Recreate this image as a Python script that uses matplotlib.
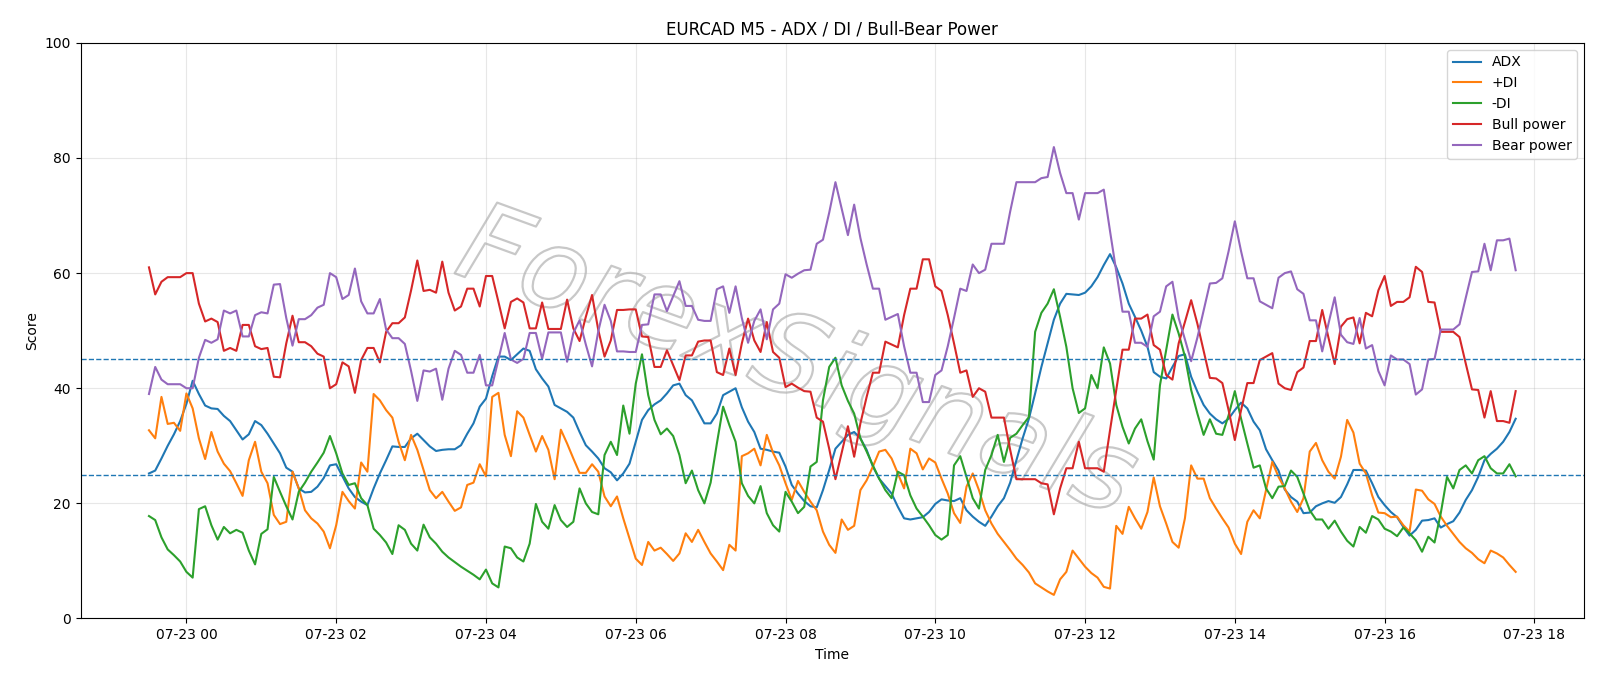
import matplotlib
matplotlib.use("Agg")
import matplotlib.pyplot as plt
import matplotlib.dates as mdates
import matplotlib.patheffects as pe
import pandas as pd

# EURCAD M5 indicator values, one per 5-minute bar from 07-22 23:30
adx = [25.2, 25.7, 27.8, 30.0, 32.0, 34.3, 37.3, 41.3, 39.0, 37.0, 36.5, 36.4, 35.2, 34.3, 32.7, 31.1,
       32.0, 34.3, 33.6, 32.1, 30.4, 28.7, 26.2, 25.5, 22.6, 21.9, 22.0, 22.9, 24.4, 26.6, 26.8, 24.7,
       22.6, 21.1, 20.3, 19.7, 22.6, 25.2, 27.5, 29.9, 29.8, 29.8, 31.3, 32.1, 31.0, 29.9, 29.1, 29.3,
       29.4, 29.4, 30.1, 32.1, 33.9, 36.8, 38.2, 42.1, 45.5, 45.5, 44.9, 45.9, 46.9, 46.5, 43.3, 41.7,
       40.3, 37.1, 36.5, 35.9, 34.9, 32.4, 30.1, 29.0, 27.8, 26.1, 25.4, 24.0, 25.2, 26.9, 30.7, 34.5,
       36.2, 37.2, 37.9, 39.1, 40.5, 40.8, 38.8, 37.9, 35.9, 33.9, 33.9, 35.6, 38.8, 39.4, 40.0, 36.7,
       34.2, 32.4, 29.5, 29.3, 29.0, 28.8, 26.4, 23.2, 21.7, 20.4, 19.5, 19.3, 22.3, 25.8, 29.5, 30.7,
       31.9, 32.4, 31.3, 29.3, 26.4, 24.3, 23.0, 21.7, 19.4, 17.4, 17.2, 17.4, 17.6, 18.5, 19.9, 20.7,
       20.5, 20.4, 20.9, 18.8, 17.7, 16.8, 16.1, 17.7, 19.5, 20.9, 23.6, 27.5, 31.3, 34.7, 39.1, 43.7,
       47.8, 51.9, 54.7, 56.4, 56.3, 56.2, 56.6, 57.7, 59.3, 61.4, 63.3, 61.0, 58.2, 54.7, 52.4, 50.0,
       47.2, 42.8, 42.0, 41.7, 43.7, 45.6, 45.9, 42.0, 39.4, 37.1, 35.6, 34.6, 33.9, 34.7, 36.2, 37.5,
       36.5, 34.2, 32.7, 29.4, 27.5, 25.7, 22.4, 21.1, 20.3, 18.3, 18.4, 19.5, 20.0, 20.4, 20.1, 21.1,
       23.3, 25.8, 25.8, 25.7, 23.5, 21.1, 19.7, 18.5, 17.6, 15.9, 14.4, 15.4, 17.0, 17.1, 17.4, 15.8,
       16.4, 16.9, 18.4, 20.6, 22.3, 24.6, 27.5, 28.6, 29.5, 30.7, 32.4, 34.7]

plus_di = [32.7, 31.3, 38.5, 33.8, 34.0, 32.6, 39.1, 36.5, 31.3, 27.7, 32.4, 29.0, 26.9, 25.6, 23.5, 21.3,
           27.5, 30.7, 25.5, 23.5, 18.0, 16.4, 16.8, 25.5, 22.6, 18.8, 17.4, 16.5, 15.1, 12.2, 16.2, 22.0,
           20.4, 19.1, 27.1, 25.5, 39.0, 37.9, 36.2, 34.9, 30.7, 27.5, 31.9, 29.3, 25.8, 22.3, 20.9, 22.0,
           20.3, 18.7, 19.3, 23.2, 23.6, 26.8, 24.7, 38.5, 39.2, 31.9, 28.2, 36.0, 34.9, 31.9, 29.0, 31.7,
           29.3, 24.2, 32.8, 30.4, 27.8, 25.3, 25.3, 26.8, 25.5, 21.2, 19.5, 21.2, 17.4, 13.9, 10.4, 9.3,
           13.3, 11.8, 12.3, 11.2, 10.0, 11.3, 14.8, 13.3, 15.4, 13.3, 11.3, 9.9, 8.4, 12.8, 11.8, 28.2,
           28.7, 29.5, 26.6, 31.9, 28.8, 26.6, 23.5, 20.6, 23.9, 22.0, 20.3, 18.8, 15.1, 12.8, 11.4, 17.2,
           15.4, 16.1, 22.3, 24.0, 26.4, 29.0, 29.3, 27.8, 25.2, 22.6, 29.5, 28.7, 25.9, 27.8, 27.1, 24.3,
           21.7, 18.3, 16.6, 22.9, 25.2, 22.3, 18.8, 16.5, 14.7, 13.3, 11.9, 10.4, 9.3, 8.0, 6.1, 5.4,
           4.7, 4.1, 6.8, 8.1, 11.8, 10.4, 9.0, 7.9, 7.1, 5.5, 5.2, 16.1, 14.7, 19.4, 17.4, 15.6,
           18.5, 24.5, 19.5, 16.5, 13.3, 12.3, 17.4, 26.6, 24.3, 24.3, 20.9, 19.1, 17.4, 15.8, 13.0, 11.2,
           16.8, 18.8, 17.4, 22.3, 27.2, 24.6, 22.6, 20.3, 18.5, 20.9, 29.0, 30.5, 27.5, 25.5, 24.3, 28.1,
           34.5, 32.3, 26.9, 25.2, 21.4, 18.4, 18.3, 17.6, 17.7, 16.2, 15.1, 22.4, 22.2, 20.7, 19.9, 17.7,
           16.1, 14.7, 13.3, 12.2, 11.4, 10.3, 9.6, 11.8, 11.3, 10.6, 9.3, 8.1]

minus_di = [17.8, 17.1, 14.1, 12.0, 11.0, 9.9, 8.1, 7.1, 19.0, 19.5, 16.2, 13.7, 15.9, 14.8, 15.4, 14.9,
            11.8, 9.4, 14.7, 15.5, 24.6, 22.0, 19.5, 17.2, 22.0, 23.6, 25.5, 27.1, 28.8, 31.7, 28.7, 25.2,
            23.2, 23.5, 20.9, 19.7, 15.6, 14.5, 13.2, 11.2, 16.2, 15.4, 13.0, 11.8, 16.3, 14.1, 13.0, 11.6,
            10.6, 9.8, 9.0, 8.3, 7.6, 6.8, 8.5, 6.1, 5.4, 12.5, 12.2, 10.6, 9.9, 13.0, 19.9, 16.8,
            15.6, 19.7, 17.1, 15.9, 16.8, 22.6, 20.0, 18.5, 18.1, 28.4, 30.7, 28.4, 37.0, 32.1, 40.8, 45.9,
            38.8, 34.5, 32.0, 33.0, 31.7, 28.4, 23.5, 25.7, 22.3, 20.0, 23.6, 30.4, 36.8, 33.6, 30.7, 23.5,
            21.3, 20.0, 23.0, 18.3, 16.2, 15.1, 22.0, 20.3, 18.3, 19.4, 26.4, 27.2, 37.9, 43.7, 45.3, 40.5,
            37.8, 35.6, 31.3, 29.0, 26.6, 24.3, 22.3, 20.9, 25.5, 24.9, 21.4, 19.1, 17.7, 16.2, 14.5, 13.7,
            14.5, 26.6, 28.2, 24.6, 20.9, 19.1, 25.8, 28.4, 31.9, 27.2, 31.4, 32.1, 33.6, 35.0, 49.8, 53.1,
            54.7, 57.2, 52.4, 47.2, 40.0, 35.7, 36.5, 42.3, 40.0, 47.1, 44.3, 37.1, 33.3, 30.4, 33.0, 34.6,
            30.8, 27.6, 40.5, 46.6, 52.8, 49.5, 45.5, 39.7, 35.6, 31.9, 34.6, 32.1, 31.9, 35.3, 39.5, 34.7,
            30.4, 26.2, 26.6, 22.6, 20.9, 22.9, 23.0, 25.7, 24.6, 21.7, 18.8, 17.2, 17.2, 15.6, 17.0, 15.1,
            13.5, 12.5, 15.9, 14.9, 17.8, 17.2, 15.6, 15.1, 14.3, 15.8, 14.8, 13.6, 11.6, 14.2, 13.2, 18.3,
            24.6, 22.6, 25.8, 26.6, 25.2, 27.5, 28.2, 26.1, 25.2, 25.2, 26.8, 24.7]

bull_power = [61.0, 56.3, 58.5, 59.3, 59.3, 59.3, 60.0, 60.0, 54.7, 51.6, 52.1, 51.5, 46.5, 47.0, 46.5, 51.0,
              51.0, 47.3, 46.8, 47.0, 42.0, 41.9, 47.8, 52.6, 48.0, 48.0, 47.3, 46.0, 45.5, 40.0, 40.7, 44.5,
              43.8, 39.2, 44.9, 47.0, 47.0, 44.5, 49.8, 51.3, 51.3, 52.3, 57.0, 62.2, 56.9, 57.1, 56.6, 62.0,
              56.6, 53.5, 54.2, 57.3, 57.3, 54.2, 59.5, 59.5, 55.0, 50.4, 55.0, 55.6, 54.9, 50.4, 50.4, 54.9,
              50.3, 50.3, 50.3, 55.4, 50.4, 48.2, 52.4, 56.2, 50.1, 45.5, 48.3, 53.6, 53.6, 53.7, 53.7, 49.0,
              48.9, 43.7, 43.7, 46.6, 44.0, 41.4, 45.7, 45.7, 48.1, 48.3, 48.3, 42.8, 42.3, 46.9, 42.3, 47.8,
              52.1, 48.3, 46.3, 51.5, 46.3, 45.3, 40.2, 40.8, 40.1, 39.5, 39.4, 34.9, 34.2, 29.5, 24.2, 28.8,
              33.4, 28.1, 33.9, 38.5, 42.7, 42.7, 48.1, 47.6, 47.1, 52.7, 57.3, 57.3, 62.4, 62.4, 57.7, 56.9,
              52.7, 47.8, 42.7, 43.1, 38.5, 40.0, 39.4, 34.9, 34.9, 34.9, 29.3, 24.2, 24.2, 24.2, 24.2, 23.5,
              23.3, 18.1, 22.6, 26.1, 26.1, 30.7, 26.1, 26.1, 26.1, 25.5, 32.7, 39.7, 46.7, 46.7, 52.1, 52.1,
              52.8, 47.5, 46.7, 42.3, 41.5, 47.8, 51.5, 55.3, 51.2, 46.5, 41.8, 41.7, 40.9, 36.2, 31.0, 36.2,
              40.9, 40.9, 44.9, 45.5, 46.1, 40.8, 40.0, 39.7, 42.8, 43.6, 48.2, 48.2, 53.6, 48.8, 44.2, 50.7,
              52.0, 52.3, 47.8, 53.1, 52.5, 57.0, 59.5, 54.3, 55.0, 55.0, 55.8, 61.1, 60.2, 55.0, 54.9, 49.8,
              49.8, 49.8, 48.9, 44.3, 39.8, 39.7, 34.9, 39.5, 34.3, 34.3, 34.0, 39.5]

bear_power = [39.0, 43.7, 41.5, 40.7, 40.7, 40.7, 40.0, 40.0, 45.3, 48.4, 47.9, 48.5, 53.5, 53.0, 53.5, 49.0,
              49.0, 52.7, 53.2, 53.0, 58.0, 58.1, 52.2, 47.4, 52.0, 52.0, 52.7, 54.0, 54.5, 60.0, 59.3, 55.5,
              56.2, 60.8, 55.1, 53.0, 53.0, 55.5, 50.2, 48.7, 48.7, 47.7, 43.0, 37.8, 43.1, 42.9, 43.4, 38.0,
              43.4, 46.5, 45.8, 42.7, 42.7, 45.8, 40.5, 40.5, 45.0, 49.6, 45.0, 44.4, 45.1, 49.6, 49.6, 45.1,
              49.7, 49.7, 49.7, 44.6, 49.6, 51.8, 47.6, 43.8, 49.9, 54.5, 51.7, 46.4, 46.4, 46.3, 46.3, 51.0,
              51.1, 56.3, 56.3, 53.4, 56.0, 58.6, 54.3, 54.3, 51.9, 51.7, 51.7, 57.2, 57.7, 53.1, 57.7, 52.2,
              47.9, 51.7, 53.7, 48.5, 53.7, 54.7, 59.8, 59.2, 59.9, 60.5, 60.6, 65.1, 65.8, 70.5, 75.8, 71.2,
              66.6, 71.9, 66.1, 61.5, 57.3, 57.3, 51.9, 52.4, 52.9, 47.3, 42.7, 42.7, 37.6, 37.6, 42.3, 43.1,
              47.3, 52.2, 57.3, 56.9, 61.5, 60.0, 60.6, 65.1, 65.1, 65.1, 70.7, 75.8, 75.8, 75.8, 75.8, 76.5,
              76.7, 81.9, 77.4, 73.9, 73.9, 69.3, 73.9, 73.9, 73.9, 74.5, 67.3, 60.3, 53.3, 53.3, 47.9, 47.9,
              47.2, 52.5, 53.3, 57.7, 58.5, 52.2, 48.5, 44.7, 48.8, 53.5, 58.2, 58.3, 59.1, 63.8, 69.0, 63.8,
              59.1, 59.1, 55.1, 54.5, 53.9, 59.2, 60.0, 60.3, 57.2, 56.4, 51.8, 51.8, 46.4, 51.2, 55.8, 49.3,
              48.0, 47.7, 52.2, 46.9, 47.5, 43.0, 40.5, 45.7, 45.0, 45.0, 44.2, 38.9, 39.8, 45.0, 45.1, 50.2,
              50.2, 50.2, 51.1, 55.7, 60.2, 60.3, 65.1, 60.5, 65.7, 65.7, 66.0, 60.5]

adx_levels = [45, 25]

times = pd.date_range("2025-07-22 23:30", periods=len(adx), freq="5min")

fig, ax = plt.subplots(figsize=(16, 6.86), dpi=100)
fig.subplots_adjust(left=0.0504, right=0.99, bottom=0.0984, top=0.9375)

ax.plot(times, adx, label="ADX")
ax.plot(times, plus_di, label="+DI")
ax.plot(times, minus_di, label="-DI")
ax.plot(times, bull_power, label="Bull power")
ax.plot(times, bear_power, label="Bear power")

for lvl in adx_levels:
    ax.axhline(lvl, color="C0", linestyle="--", linewidth=1)

ax.set_ylim(0, 100)
ax.xaxis.set_major_locator(mdates.HourLocator(interval=2))
ax.xaxis.set_major_formatter(mdates.DateFormatter("%m-%d %H"))

ax.set_title("EURCAD M5 - ADX / DI / Bull-Bear Power")
ax.set_xlabel("Time")
ax.set_ylabel("Score")
ax.grid(True, alpha=0.3)
ax.legend(loc="upper right")

# hollow watermark across the middle
ax.text(0.476, 0.44, "ForexSignals", transform=ax.transAxes, fontsize=80,
        fontstyle="italic", rotation=-20, ha="center", va="center", color="none",
        path_effects=[pe.Stroke(linewidth=1.6, foreground="#c8c8c8")], zorder=0)

fig.savefig("out.png", dpi=100)
